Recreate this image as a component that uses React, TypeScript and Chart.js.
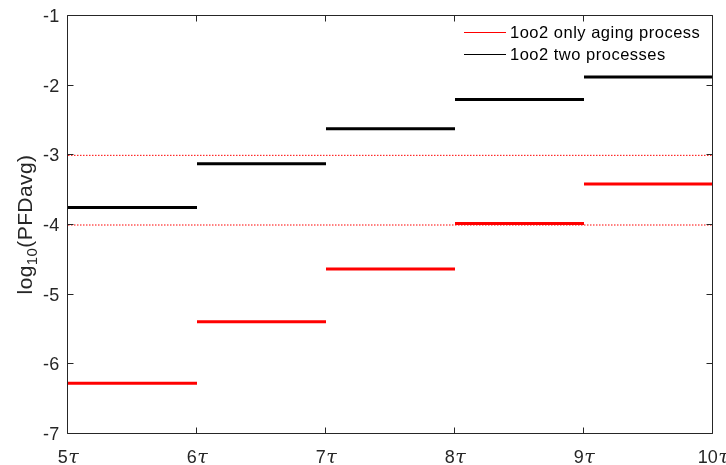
import React, { useEffect, useRef } from "react";
import { Chart, registerables } from "chart.js";

Chart.register(...registerables);

const segmentStarts = [5, 6, 7, 8, 9];
const segmentEnds = [6, 7, 8, 9, 10];
const twoProcesses = [-3.75, -3.12, -2.62, -2.2, -1.875];
const agingOnly = [-6.27, -5.39, -4.63, -3.98, -3.41];
const thresholds = [-3, -4];
const xTicks = [5, 6, 7, 8, 9, 10];
const yTicks = [-7, -6, -5, -4, -3, -2, -1];
const legendLabels = ["1oo2 only aging process", "1oo2 two processes"];
const legendColors = ["#ff0000", "#000000"];

function segments(values: number[]) {
  const pts: { x: number; y: number | null }[] = [];
  values.forEach((v, i) => {
    pts.push({ x: segmentStarts[i], y: v });
    pts.push({ x: segmentEnds[i], y: v });
    pts.push({ x: segmentEnds[i], y: null });
  });
  return pts;
}

const FONT = "'Liberation Sans', Arial, Helvetica, sans-serif";
const TAU_FONT = "italic 19px 'DejaVu Serif', 'Liberation Serif', serif";
const AXIS = "#262626";

function setSpacing(ctx: any, px: number) {
  if ("letterSpacing" in ctx) ctx.letterSpacing = `${px}px`;
}

const decorPlugin = {
  id: "decor",
  afterDraw(chart: any) {
    const ctx = chart.ctx;
    const { left, right, top, bottom } = chart.chartArea;
    const xs = chart.scales.x;
    const ys = chart.scales.y;
    const L = Math.round(left) - 0.5;
    const R = Math.round(right) - 0.5;
    const T = Math.round(top) - 0.5;
    const B = Math.round(bottom) - 0.5;
    ctx.save();
    ctx.strokeStyle = AXIS;
    ctx.lineWidth = 1;
    ctx.setLineDash([]);
    ctx.beginPath();
    ctx.rect(L, T, R - L, B - T);
    ctx.stroke();
    // ticks
    ctx.beginPath();
    xTicks.forEach((v) => {
      const x = Math.round(xs.getPixelForValue(v)) - 0.5;
      ctx.moveTo(x, B);
      ctx.lineTo(x, B - 6);
      ctx.moveTo(x, T);
      ctx.lineTo(x, T + 6);
    });
    yTicks.forEach((v) => {
      const y = Math.round(ys.getPixelForValue(v)) - 0.5;
      ctx.moveTo(L, y);
      ctx.lineTo(L + 6, y);
      ctx.moveTo(R, y);
      ctx.lineTo(R - 6, y);
    });
    ctx.stroke();

    // y tick labels
    ctx.fillStyle = AXIS;
    setSpacing(ctx, 0.3);
    ctx.font = `18px ${FONT}`;
    ctx.textAlign = "right";
    ctx.textBaseline = "middle";
    yTicks.forEach((v) => {
      ctx.fillText(String(v), L - 8, ys.getPixelForValue(v) + 1);
    });

    // x tick labels
    ctx.textBaseline = "alphabetic";
    ctx.textAlign = "left";
    setSpacing(ctx, 0);
    xTicks.forEach((v) => {
      const num = String(v);
      ctx.font = `18px ${FONT}`;
      const w1 = ctx.measureText(num).width;
      ctx.font = TAU_FONT;
      const w2 = ctx.measureText("τ").width;
      const x0 = xs.getPixelForValue(v) - (w1 + w2) / 2;
      const yb = 463;
      ctx.font = `18px ${FONT}`;
      ctx.fillText(num, x0, yb);
      ctx.font = TAU_FONT;
      ctx.fillText("τ", x0 + w1 + 0.5, yb);
    });

    // y axis title
    ctx.save();
    ctx.translate(32, (T + B) / 2);
    ctx.rotate(-Math.PI / 2);
    setSpacing(ctx, 0.4);
    ctx.font = `21px ${FONT}`;
    const p1 = "log";
    const p2 = "10";
    const p3 = "(PFDavg)";
    const w1 = ctx.measureText(p1).width;
    const w3 = ctx.measureText(p3).width;
    ctx.font = `15px ${FONT}`;
    const w2 = ctx.measureText(p2).width;
    let x = -(w1 + w2 + w3) / 2;
    ctx.textAlign = "left";
    ctx.textBaseline = "alphabetic";
    ctx.font = `21px ${FONT}`;
    ctx.fillText(p1, x, 0);
    x += w1;
    ctx.font = `15px ${FONT}`;
    ctx.fillText(p2, x, 5);
    x += w2;
    ctx.font = `21px ${FONT}`;
    ctx.fillText(p3, x, 0);
    ctx.restore();

    // legend
    setSpacing(ctx, 0.5);
    ctx.font = `16.5px ${FONT}`;
    ctx.textAlign = "left";
    ctx.textBaseline = "middle";
    legendLabels.forEach((lab, i) => {
      const y = T + 16.5 + i * 22;
      ctx.strokeStyle = legendColors[i];
      ctx.lineWidth = 1;
      ctx.beginPath();
      ctx.moveTo(464, Math.round(y) + 0.5);
      ctx.lineTo(506, Math.round(y) + 0.5);
      ctx.stroke();
      ctx.fillStyle = "#000";
      ctx.fillText(lab, 510, y + 1);
    });
    ctx.restore();
  },
};

export default function App() {
  const ref = useRef<HTMLCanvasElement>(null);
  useEffect(() => {
    if (!ref.current) return;
    const thresholdSets = thresholds.map((t) => ({
      data: [
        { x: xTicks[0], y: t },
        { x: xTicks[xTicks.length - 1], y: t },
      ],
      borderColor: "#ff0000",
      borderWidth: 1,
      borderDash: [1.5, 1.5],
      pointRadius: 0,
      fill: false,
    }));
    const chart = new Chart(ref.current, {
      type: "line",
      data: {
        datasets: [
          ...thresholdSets,
          {
            data: segments(agingOnly),
            borderColor: "#ff0000",
            borderWidth: 3,
            pointRadius: 0,
            spanGaps: false,
            fill: false,
          },
          {
            data: segments(twoProcesses),
            borderColor: "#000000",
            borderWidth: 3,
            pointRadius: 0,
            spanGaps: false,
            fill: false,
          },
        ] as any,
      },
      options: {
        animation: false,
        responsive: false,
        layout: { padding: { left: 68, right: 13, top: 16, bottom: 31 } },
        plugins: { legend: { display: false }, tooltip: { enabled: false } },
        scales: {
          x: { type: "linear", min: 5, max: 10, display: false },
          y: { type: "linear", min: -7, max: -1, display: false },
        },
      },
      plugins: [decorPlugin],
    });
    return () => chart.destroy();
  }, []);
  return (
    <div style={{ position: "fixed", left: 0, top: 0, width: 726, height: 465, background: "#fff" }}>
      <canvas ref={ref} width={726} height={465} style={{ width: 726, height: 465 }} />
    </div>
  );
}
